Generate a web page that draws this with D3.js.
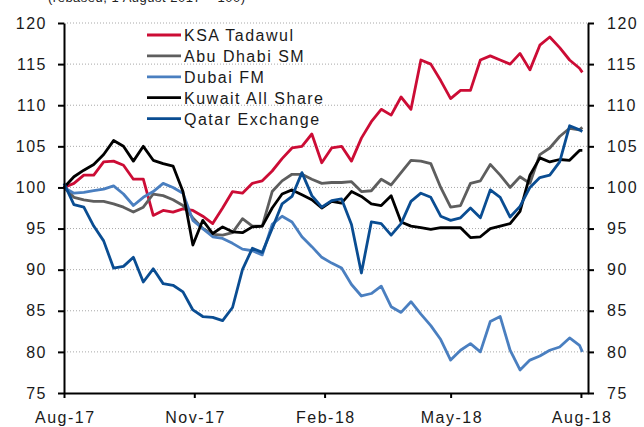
<!DOCTYPE html>
<html><head><meta charset="utf-8">
<script src="https://cdn.jsdelivr.net/npm/d3@7"></script>
<style>
html,body{margin:0;padding:0;background:#fff;}
svg{display:block;font-family:"Liberation Sans",Arial,sans-serif;}
</style></head>
<body><svg id="c" width="644" height="427"></svg>
<script>
const dates = ["2017-08-01","2017-08-08","2017-08-15","2017-08-22","2017-08-29","2017-09-05","2017-09-12","2017-09-19","2017-09-26","2017-10-03","2017-10-10","2017-10-17","2017-10-24","2017-10-31","2017-11-07","2017-11-14","2017-11-21","2017-11-28","2017-12-05","2017-12-12","2017-12-19","2017-12-26","2018-01-02","2018-01-09","2018-01-16","2018-01-23","2018-01-30","2018-02-06","2018-02-13","2018-02-20","2018-02-27","2018-03-06","2018-03-13","2018-03-20","2018-03-27","2018-04-03","2018-04-10","2018-04-17","2018-04-24","2018-05-01","2018-05-08","2018-05-15","2018-05-22","2018-05-29","2018-06-05","2018-06-12","2018-06-19","2018-06-26","2018-07-03","2018-07-10","2018-07-17","2018-07-24","2018-07-31","2018-08-02"];
const ksa = [100,100.5,101.5,101.5,103.1,103.2,102.7,101,101,96.6,97.2,97,97.4,97.2,96.5,95.6,97.5,99.5,99.3,100.5,100.8,102,103.5,104.8,105,106.5,103,104.8,105,103.2,106,108,109.5,108.8,111,109.5,115.5,115,113,110.8,111.8,111.8,115.5,116,115.5,115,116.3,114.3,117.3,118.3,117,115.5,114.5,114];
const abuDhabi = [100,98.8,98.5,98.3,98.3,98.0,97.6,97.0,97.6,99.2,99.0,98.5,97.8,96.3,95,94.3,94.2,94.5,96.2,95.3,95.3,99.5,100.8,101.6,101.6,101,100.5,100.6,100.6,100.7,99.5,99.6,101,100.3,101.8,103.3,103.2,102.9,100,97.6,97.8,100.5,100.8,102.8,101.5,100,101.3,100.5,104,104.8,106.2,107.2,107,107.3];
const dubai = [100,99.3,99.4,99.6,99.8,100.2,99.2,97.8,98.8,99.5,100.5,100,99.3,96,95,94,93.8,93.2,92.5,92.3,91.8,95.5,96.5,95.8,94,92.8,91.5,90.8,90.2,88.2,86.8,87.1,88,85.5,84.8,86.1,84.6,83.2,81.5,79,80.2,81,80,83.7,84.3,80.2,77.8,79,79.5,80.2,80.6,81.7,80.8,80];
const kuwait = [100,101.3,102.1,102.8,104,105.7,105,103.2,105,103.3,102.9,102.6,99.5,93,96,94.4,95.2,94.6,94.5,95.2,95.3,97.5,99.2,99.7,99.1,98.5,97.5,98.3,98.1,99.5,98.9,98.0,97.8,99.0,95.8,95.3,95.1,94.9,95.1,95.1,95.1,93.9,94,95,95.3,95.6,97.1,101.5,103.6,103.1,103.4,103.3,104.5,104.5];
const qatar = [100.5,97.9,97.6,95.3,93.5,90.2,90.4,91.5,88.5,90.1,88.3,88.1,87.3,85.1,84.3,84.2,83.8,85.4,90,92.6,92.1,95,98,98.9,101.8,99,97.6,98.4,98.6,95.5,89.6,95.8,95.6,94.2,95.6,98.3,99.3,98.8,96.5,96,96.3,97.5,96.3,99.7,98.8,96.4,97.7,100,101.2,101.5,103.1,107.5,107,106.8];
const seriesNames = ["KSA Tadawul","Abu Dhabi SM","Dubai FM","Kuwait All Share","Qatar Exchange"];
const seriesColors = ["#cc0c35","#5e5e5e","#4a7fc0","#000000","#0a4d92"];
const yTicks = [75,80,85,90,95,100,105,110,115,120];
const xTickDates = ["2017-08-01","2017-11-01","2018-02-01","2018-05-01","2018-08-01"];
const subtitle = "(rebased, 1 August 2017 = 100)";

const parse = d3.utcParse("%Y-%m-%d");
const svg = d3.select("#c");
const x = d3.scaleUtc().domain([parse("2017-08-01"), parse("2018-08-06")]).range([64, 588]);
const y = d3.scaleLinear().domain([75,120]).range([393, 23]);

svg.append("text").attr("x",48).attr("y",2).attr("font-size",13).attr("letter-spacing","0.5px").attr("fill","#222").text(subtitle);

// grid
svg.append("g").selectAll("line").data(yTicks.filter(v=>v>75)).join("line")
  .attr("x1",64).attr("x2",588).attr("y1",d=>y(d)).attr("y2",d=>y(d))
  .attr("stroke","#a8a8a8").attr("stroke-width",1).attr("stroke-dasharray","1,2");

const allSeries = [ksa, abuDhabi, dubai, kuwait, qatar];
const line = d3.line().x((d,i)=>x(parse(dates[i]))).y(d=>y(d));
allSeries.forEach((s,i)=>{
  svg.append("path").datum(s).attr("d",line).attr("fill","none")
    .attr("stroke",seriesColors[i]).attr("stroke-width",2.8).attr("stroke-linejoin","round");
});

function styleAxis(g){
  g.selectAll(".domain").attr("stroke","#000").attr("stroke-width",2);
  g.selectAll(".tick line").attr("stroke","#000").attr("stroke-width",2);
  g.selectAll(".tick text").attr("fill","#1a1a1a").attr("font-size",16).attr("letter-spacing","1.5px")
    .attr("font-family","'Liberation Sans',Arial,sans-serif");
}
const yl = svg.append("g").attr("transform","translate(64,0)")
  .call(d3.axisLeft(y).tickValues(yTicks).tickSize(6).tickPadding(11).tickSizeOuter(0));
styleAxis(yl);
const yr = svg.append("g").attr("transform","translate(588,0)")
  .call(d3.axisRight(y).tickValues(yTicks).tickSize(6).tickPadding(13).tickSizeOuter(0));
styleAxis(yr);
const xb = svg.append("g").attr("transform","translate(0,393)")
  .call(d3.axisBottom(x).tickValues(xTickDates.map(parse)).tickFormat(d3.utcFormat("%b-%y")).tickSize(5).tickPadding(14).tickSizeOuter(0));
styleAxis(xb);
xb.selectAll(".tick text").attr("dx","0.75px");

// legend
const lg = svg.append("g");
seriesNames.forEach((n,i)=>{
  const yy = 35 + i*20.9;
  lg.append("line").attr("x1",147).attr("x2",181).attr("y1",yy).attr("y2",yy)
    .attr("stroke",seriesColors[i]).attr("stroke-width",2.8);
  lg.append("text").attr("x",184).attr("y",yy+6).attr("font-size",16).attr("letter-spacing","1.5px")
    .attr("fill","#1a1a1a").text(n);
});
</script></body></html>
